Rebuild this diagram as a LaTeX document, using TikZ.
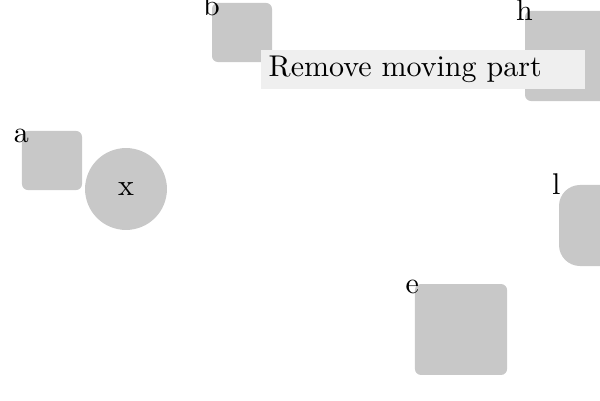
\documentclass[tikz,border=0pt]{standalone}
\usepackage{tikz}
\usetikzlibrary{positioning}

\definecolor{partgray}{HTML}{C8C8C8}
\definecolor{notegray}{HTML}{EFEFEF}

\begin{document}
\begin{tikzpicture}[
  x=0.3333pt, y=-0.3333pt,
  part/.style={rectangle,fill=partgray,rounded corners=2pt,inner sep=0pt},
  hole/.style={circle,fill=partgray,inner sep=0pt,minimum size=27.3pt},
  note/.style={rectangle,fill=notegray,inner xsep=2.7pt,inner ysep=0pt,
    minimum height=13pt,text width=102.6pt,align=left},
  lbl/.style={inner sep=0pt,anchor=center}
]
\useasboundingbox (0,0) rectangle (600,400);

\node[part,minimum width=20pt,minimum height=19.7pt] (b) at (242,32.5) {};
\node[part,minimum width=30pt,minimum height=30pt] (h) at (570,56) {};
\node[part,minimum width=20pt,minimum height=19.7pt] (a) at (52,160.5) {};
\node[hole] (x) at (126,189) {x};
\node[part,rounded corners=7pt,minimum width=27pt,minimum height=27pt] (l) at (599.5,225.5) {};
\node[part,minimum width=30.7pt,minimum height=30.3pt] (e) at (461,329.5) {};

\node[note,anchor=west] (msg) at (260,69.5) {Remove moving part};

% corner labels
\node[lbl] (la) at ([yshift=-2pt]a.north west) {a};
\node[lbl] (lb) at ([yshift=-1pt]b.north west) {b};
\node[lbl] (lh) at (h.north west) {h};
\node[lbl] (ll) at ([xshift=-0.7pt]l.north west) {l};
\node[lbl] (le) at ([xshift=-0.7pt,yshift=-1pt]e.north west) {e};
\end{tikzpicture}
\end{document}
